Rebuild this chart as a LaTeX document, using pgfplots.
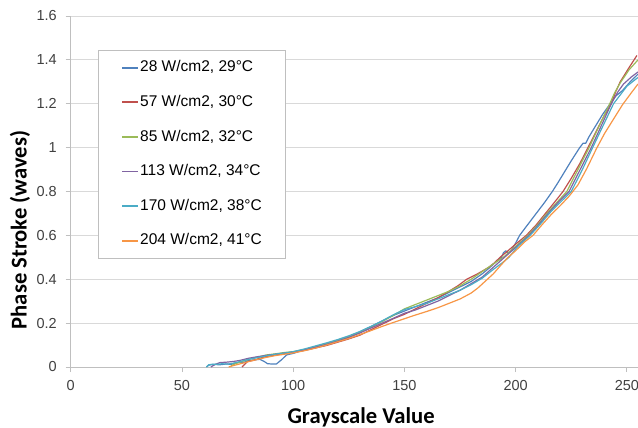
\documentclass[border=0pt]{standalone}
\usepackage{fontspec}
\setmainfont{Liberation Sans}
\newfontfamily\calibri{Carlito}
\usepackage{pgfplots}
\pgfplotsset{compat=1.18}
\definecolor{sblue}{HTML}{4F81BD}
\definecolor{sred}{HTML}{C0504D}
\definecolor{sgreen}{HTML}{9BBB59}
\definecolor{spurple}{HTML}{8064A2}
\definecolor{scyan}{HTML}{4BACC6}
\definecolor{sorange}{HTML}{F79646}
\definecolor{gridc}{HTML}{D9D9D9}
\definecolor{axc}{HTML}{BFBFBF}
\definecolor{txt}{HTML}{404040}
\begin{document}
\begin{tikzpicture}
\begin{axis}[
  scale only axis, width=567.3bp, height=351bp,
  xmin=0, xmax=255, ymin=0, ymax=1.6,
  xtick={0,50,100,150,200,250},
  ytick={0,0.2,0.4,0.6,0.8,1,1.2,1.4,1.6},
  axis lines*=left,
  axis line style={axc, line width=0.8bp},
  tick align=outside,
  major tick length=5bp,
  tick style={axc, line width=0.8bp},
  ymajorgrids, grid style={gridc, line width=0.9bp},
  /pgf/number format/assume math mode=true,
  tick label style={font=\fontsize{14.5bp}{16bp}\selectfont, text=txt},
  yticklabel style={anchor=east, inner sep=0pt, xshift=-8.7bp},
  xticklabel style={anchor=north, inner sep=0pt, yshift=-8bp},
  xlabel={\calibri\bfseries Grayscale Value},
  ylabel={\calibri\bfseries Phase Stroke (waves)},
  label style={font=\fontsize{22.6bp}{26bp}\selectfont},
  xlabel style={at={(axis description cs:0.512,-0.1435)}, anchor=center},
  ylabel style={at={(axis description cs:-0.0894,0.390)}, anchor=center},
  legend cell align=left,
  legend style={at={(axis description cs:0.0481,0.903)}, anchor=north west,
    draw=axc, line width=0.8bp, fill=white,
    font=\fontsize{15.5bp}{17bp}\selectfont, text=black,
    inner xsep=23bp, inner ysep=9bp, row sep=18.1bp,
    nodes={inner sep=1bp, text height=11.5bp, text depth=3bp}},
  legend image code/.code={\draw[#1, line width=1.8bp] (0bp,0bp) -- (16bp,0bp);},
  every axis plot/.append style={line width=1.2bp, line join=round},
]
\addplot[sblue] coordinates {
(61,0) (62,0.008) (64,0.012) (67,0.01) (70,0.014) (72,0.012) (75,0.02) (78,0.022) (80,0.03) (83,0.033) (85,0.035) (87,0.025) (88.5,0.015) (90,0.014) (92.5,0.014) (95,0.035) (97,0.055) (100,0.062) (103,0.072) (106,0.078) (110,0.088) (114,0.1) (117,0.108) (121,0.12) (125,0.135) (130,0.16) (135,0.185) (140,0.21) (145,0.235) (150,0.255) (155,0.275) (160,0.295) (165,0.315) (170,0.34) (175,0.365) (180,0.39) (185,0.425) (188,0.45) (191,0.478) (193.6,0.5) (194.5,0.52) (195.5,0.53) (196.5,0.52) (198,0.53) (200,0.565) (201.8,0.6) (204,0.63) (207,0.67) (210,0.71) (213,0.75) (216.5,0.8) (219,0.84) (222,0.89) (225,0.94) (228.8,1.0) (230.3,1.02) (231.5,1.02) (233,1.05) (236,1.1) (239,1.15) (242.5,1.2) (245,1.235) (248,1.26) (251.5,1.3) (255,1.335)
};
\addlegendentry{28 W/cm2, 29°C}
\addplot[sred] coordinates {
(77,0) (78,0.01) (79.5,0.025) (82,0.03) (85,0.04) (88,0.048) (92,0.055) (96,0.062) (100,0.067) (105,0.076) (110,0.087) (115,0.098) (120,0.113) (125,0.128) (130,0.145) (135,0.17) (140,0.195) (145,0.22) (150,0.24) (155,0.265) (160,0.29) (165,0.315) (170,0.345) (174,0.37) (178,0.4) (182,0.42) (185,0.437) (188,0.455) (190.5,0.475) (193,0.5) (196,0.525) (200,0.56) (204.8,0.6) (209,0.645) (213,0.695) (217,0.745) (221.3,0.8) (225,0.86) (229,0.93) (232.5,1.0) (236,1.07) (239.5,1.14) (243,1.2) (245,1.255) (247,1.3) (251,1.365) (254.5,1.42)
};
\addlegendentry{57 W/cm2, 30°C}
\addplot[sgreen] coordinates {
(72,0.005) (74,0.015) (77,0.025) (80,0.035) (84,0.045) (88,0.055) (92,0.06) (96,0.066) (100,0.07) (105,0.08) (110,0.093) (115,0.107) (120,0.122) (125,0.138) (130,0.158) (135,0.182) (140,0.207) (145,0.235) (150,0.265) (155,0.285) (160,0.305) (165,0.325) (170,0.345) (175,0.37) (180,0.4) (185,0.435) (190,0.47) (194.5,0.5) (200,0.55) (205.5,0.6) (210,0.65) (214,0.7) (218.5,0.75) (223,0.8) (225.5,0.85) (228,0.9) (230.5,0.95) (233,1.0) (237.6,1.1) (242.3,1.2) (244.5,1.25) (247,1.295) (251,1.355) (255,1.4)
};
\addlegendentry{85 W/cm2, 32°C}
\addplot[spurple] coordinates {
(63,0) (65,0.012) (67,0.02) (70,0.022) (73,0.025) (76,0.03) (80,0.04) (84,0.047) (88,0.053) (92,0.058) (96,0.063) (100,0.068) (105,0.078) (110,0.09) (115,0.103) (120,0.118) (125,0.135) (130,0.155) (135,0.178) (140,0.2) (145,0.222) (150,0.245) (155,0.26) (160,0.28) (165,0.3) (170,0.325) (175,0.35) (180,0.38) (185,0.41) (190,0.455) (195,0.5) (200,0.545) (206,0.6) (210,0.645) (215,0.705) (219.5,0.755) (224,0.8) (229,0.9) (234,1.0) (238.5,1.1) (243,1.2) (246,1.255) (248.5,1.29) (252,1.322) (255,1.345)
};
\addlegendentry{113 W/cm2, 34°C}
\addplot[scyan] coordinates {
(61,0) (62,0.01) (64,0.013) (66,0.012) (68,0.015) (70,0.013) (72,0.015) (75,0.022) (78,0.03) (81,0.037) (85,0.045) (89,0.053) (93,0.06) (97,0.065) (100,0.07) (105,0.082) (110,0.096) (115,0.11) (120,0.125) (125,0.142) (130,0.162) (135,0.185) (140,0.21) (145,0.238) (150,0.262) (155,0.275) (160,0.29) (165,0.31) (170,0.33) (175,0.35) (180,0.375) (185,0.405) (190,0.445) (194,0.475) (197,0.5) (201,0.55) (206.5,0.6) (211,0.65) (216,0.71) (220.5,0.755) (225,0.8) (230,0.9) (234.6,1.0) (239.3,1.1) (244,1.2) (250,1.28) (255,1.32)
};
\addlegendentry{170 W/cm2, 38°C}
\addplot[sorange] coordinates {
(71,0) (73,0.006) (76,0.014) (79,0.022) (82,0.03) (85,0.037) (88,0.044) (92,0.052) (96,0.058) (100,0.064) (105,0.074) (110,0.086) (115,0.1) (120,0.115) (125,0.13) (130,0.148) (135,0.166) (140,0.185) (145,0.203) (150,0.22) (155,0.237) (160,0.253) (165,0.27) (170,0.29) (175,0.31) (180,0.337) (183,0.36) (187,0.397) (190,0.425) (193,0.46) (196.6,0.5) (200,0.53) (204,0.57) (207.8,0.6) (212,0.65) (216,0.695) (220,0.735) (224,0.778) (228,0.83) (232,0.905) (236.3,0.995) (240,1.065) (244,1.13) (248,1.195) (252,1.25) (255,1.29)
};
\addlegendentry{204 W/cm2, 41°C}
\coordinate (sw) at (rel axis cs:0,0);
\coordinate (ne) at (rel axis cs:1,1);
\end{axis}
\pgfresetboundingbox
\useasboundingbox ([shift={(-70.7bp,-61bp)}]sw) rectangle ([shift={(0bp,16bp)}]ne);
\end{tikzpicture}
\end{document}
